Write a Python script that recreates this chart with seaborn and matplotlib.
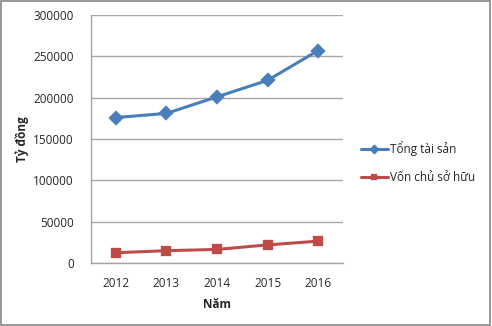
import matplotlib
matplotlib.use("Agg")
import matplotlib.pyplot as plt
import seaborn as sns
import pandas as pd
from matplotlib.patches import Rectangle

years = ["2012", "2013", "2014", "2015", "2016"]
tong_tai_san = [176000, 181000, 201000, 221000, 257000]
von_chu_so_huu = [12500, 15000, 16500, 22000, 26500]
series_names = ["Tổng tài sản", "Vốn chủ sở hữu"]
y_ticks = [0, 50000, 100000, 150000, 200000, 250000, 300000]

df = pd.DataFrame({
    "Năm": years * 2,
    "value": tong_tai_san + von_chu_so_huu,
    "series": [series_names[0]] * len(years) + [series_names[1]] * len(years),
})

sns.set_theme(style="white")
plt.rcParams["font.family"] = ["Open Sans", "DejaVu Sans"]

fig = plt.figure(figsize=(4.92, 3.26), dpi=100)
ax = fig.add_axes([0.184, 0.193, 0.514, 0.761])

palette = {series_names[0]: "#4A7EBB", series_names[1]: "#BE4B48"}
sns.pointplot(
    data=df, x="Năm", y="value", hue="series", order=years,
    hue_order=series_names, palette=palette, markers=["D", "s"],
    markersize=6, linewidth=2.2, errorbar=None, ax=ax,
)

ax.set_xlim(-0.5, 4.5)
ax.set_ylim(0, 300000)
ax.set_yticks(y_ticks)
ax.set_yticklabels([str(v) for v in y_ticks])
ax.yaxis.grid(True, color="#A6A6A6", linewidth=1)
ax.xaxis.grid(False)
ax.set_axisbelow(True)
for side in ["top", "right"]:
    ax.spines[side].set_visible(False)
for side in ["left", "bottom"]:
    ax.spines[side].set_color("#A6A6A6")
    ax.spines[side].set_linewidth(1)
ax.tick_params(axis="both", length=0, labelsize=8.5, colors="#262626")
ax.tick_params(axis="y", pad=12)
ax.tick_params(axis="x", pad=10)

ax.set_xlabel("Năm", fontsize=8.5, fontweight="bold", color="#262626", labelpad=6)
ax.set_ylabel("Tỷ đồng", fontsize=8.5, fontweight="bold", color="#262626")
ax.yaxis.set_label_coords(-0.243, 0.5)

handles, labels = ax.get_legend_handles_labels()
ax.legend(
    handles, labels, loc="center left", bbox_to_anchor=(1.05, 0.405),
    frameon=False, fontsize=8.5, handlelength=2.3, handletextpad=0.2,
    labelspacing=1.25, borderaxespad=0, markerscale=0.6,
)

fig.patches.append(Rectangle((0.002, 0.004), 0.994, 0.992, transform=fig.transFigure,
                             fill=False, edgecolor="#868686", linewidth=1.2))

fig.savefig("out.png", dpi=100)
